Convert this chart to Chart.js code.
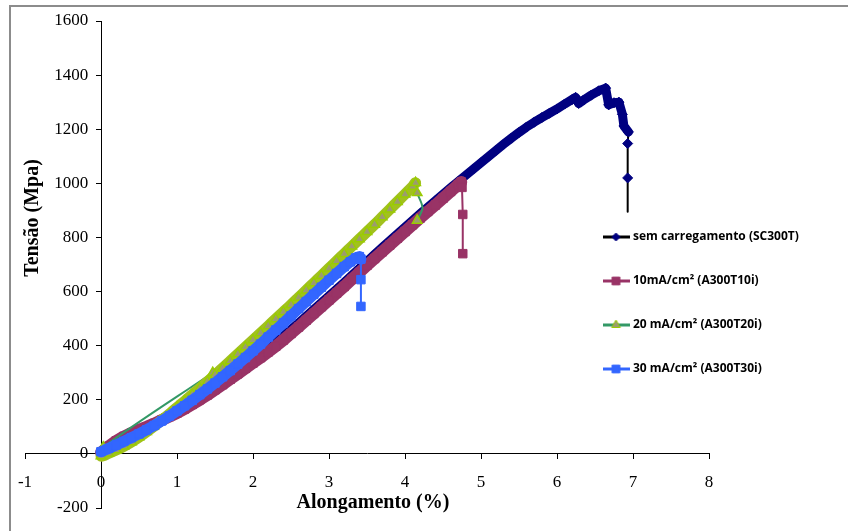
<!DOCTYPE html>
<html>
<head>
<meta charset="utf-8">
<script src="https://cdn.jsdelivr.net/npm/chart.js@4.4.0/dist/chart.umd.min.js"></script>
<style>
  body { margin: 0; background: #fff; }
  canvas { display: block; }
</style>
</head>
<body>
<canvas id="chart" width="848" height="531"></canvas>
<script>
// data
const seriesLabels = ['sem carregamento (SC300T)', '10mA/cm² (A300T10i)', '20 mA/cm² (A300T20i)', '30 mA/cm² (A300T30i)']
const xTicks = [-1, 0, 1, 2, 3, 4, 5, 6, 7, 8]
const yTicks = [-200, 0, 200, 400, 600, 800, 1000, 1200, 1400, 1600]
const xTitle = 'Alongamento (%)'
const yTitle = 'Tensão (Mpa)'

// sem carregamento
const scX = [0, 0.1, 0.2, 0.3, 0.4, 0.5, 0.6, 0.7, 0.8, 0.9, 1.0, 1.1, 1.2, 1.3, 1.4, 1.5, 1.6, 1.7, 1.8, 1.9,
  2.0, 2.1, 2.2, 2.3, 2.4, 2.5, 2.6, 2.7, 2.8, 2.9, 3.0, 3.1, 3.2, 3.3, 3.4, 3.5, 3.6, 3.7, 3.8, 3.9,
  4.0, 4.1, 4.2, 4.3, 4.4, 4.5, 4.6, 4.7, 4.8, 4.9, 5.0, 5.1, 5.2, 5.3, 5.4, 5.5, 5.6, 5.7, 5.8, 5.9,
  6.0, 6.1, 6.2, 6.245, 6.285, 6.35, 6.45, 6.55, 6.64, 6.68, 6.75, 6.815, 6.86, 6.88, 6.94, 6.93, 6.93, 6.93]
const scY = [0, 18, 36, 52, 67, 81, 95, 110, 126, 142, 158, 175, 192, 210, 228, 247, 266, 286, 306, 327,
  348, 369, 391, 413, 436, 460, 484, 509, 534, 559, 584, 609, 634, 660, 686, 712, 738, 763, 788, 813,
  838, 863, 888, 912, 936, 960, 984, 1007, 1030, 1053, 1076, 1099, 1122, 1145, 1167, 1188, 1208, 1226, 1243, 1259,
  1275, 1293, 1310, 1318, 1295, 1308, 1326, 1342, 1352, 1290, 1298, 1300, 1255, 1212, 1190, 1147, 1020, 895]

// 10 mA/cm2
const a10X = [0, 0.1, 0.2, 0.3, 0.4, 0.5, 0.6, 0.7, 0.8, 0.9, 1.0, 1.1, 1.2, 1.3, 1.4, 1.5, 1.6, 1.7, 1.8, 1.9,
  2.0, 2.1, 2.2, 2.3, 2.4, 2.5, 2.6, 2.7, 2.8, 2.9, 3.0, 3.1, 3.2, 3.3, 3.4, 3.5, 3.6, 3.7, 3.8, 3.9,
  4.0, 4.1, 4.2, 4.3, 4.4, 4.5, 4.6, 4.7, 4.74, 4.75, 4.76, 4.76]
const a10Y = [5, 28, 48, 64, 77, 89, 100, 112, 125, 138, 151, 166, 183, 200, 218, 237, 256, 276, 296, 316,
  336, 356, 377, 398, 421, 445, 469, 494, 519, 544, 569, 594, 619, 645, 671, 697, 722, 747, 772, 797,
  822, 847, 872, 896, 920, 945, 970, 995, 1005, 985, 885, 740]

// 20 mA/cm2
const a20X = [1.47, 0.03, 0, 0.1, 0.2, 0.3, 0.4, 0.5, 0.6, 0.7, 0.8, 0.9, 1.0, 1.1, 1.2, 1.3, 1.4, 1.5, 1.6, 1.7, 1.8, 1.9,
  2.0, 2.1, 2.2, 2.3, 2.4, 2.5, 2.6, 2.7, 2.8, 2.9, 3.0, 3.1, 3.2, 3.3, 3.4, 3.5, 3.6, 3.7, 3.8, 3.9,
  4.0, 4.1, 4.14, 4.16, 4.23, 4.16]
const a20Y = [300, 25, -8, 2, 14, 28, 44, 62, 82, 103, 125, 148, 172, 195, 219, 243, 267, 292, 317, 343, 369, 395,
  421, 447, 473, 499, 525, 551, 578, 605, 632, 659, 686, 713, 740, 767, 794, 821, 848, 876, 904, 932,
  960, 988, 1002, 965, 910, 863]

// 30 mA/cm2
const a30X = [0, 0.1, 0.2, 0.3, 0.4, 0.5, 0.6, 0.7, 0.8, 0.9, 1.0, 1.1, 1.2, 1.3, 1.4, 1.5, 1.6, 1.7, 1.8, 1.9,
  2.0, 2.1, 2.2, 2.3, 2.4, 2.5, 2.6, 2.7, 2.8, 2.9, 3.0, 3.1, 3.2, 3.28, 3.35, 3.4, 3.42, 3.42, 3.42]
const a30Y = [8, 20, 33, 46, 60, 74, 89, 105, 122, 140, 159, 178, 198, 219, 240, 262, 285, 308, 332, 356,
  381, 406, 432, 458, 484, 510, 537, 563, 590, 616, 642, 667, 692, 710, 724, 729, 720, 644, 545]

const pts = (xs, ys) => xs.map((x, i) => ({ x: x, y: ys[i] }))

// the readings are so dense in the original that the markers merge into a band:
// a wide stroke on those segments, a thin one for the sparse tails
const band = (from, to, wide, thin, wideColor, thinColor) => ({
  borderWidth: c => (c.p0DataIndex >= from && c.p1DataIndex <= to) ? wide : thin,
  borderColor: c => (c.p0DataIndex >= from && c.p1DataIndex <= to) ? wideColor : thinColor
})

// little "line + marker" pictures for the legend, like the excel one
function legendIcon(line, style, fill, edge, r) {
  const c = document.createElement('canvas')
  c.width = 27
  c.height = 14
  const g = c.getContext('2d')
  g.strokeStyle = line
  g.lineWidth = 3
  g.beginPath()
  g.moveTo(0, 7)
  g.lineTo(27, 7)
  g.stroke()
  g.fillStyle = fill
  g.strokeStyle = edge
  g.lineWidth = 1
  Chart.helpers.drawPoint(g, { pointStyle: style, radius: r, rotation: 0, borderWidth: 1 }, 13.5, 7)
  return c
}

const icons = [
  legendIcon('#000000', 'rectRot', '#000080', '#000080', 4),
  legendIcon('#993366', 'rect', '#993366', '#993366', 5.5),
  legendIcon('#339966', 'triangle', '#9c9c6e', '#99cc00', 5),
  legendIcon('#3366ff', 'rect', '#3366ff', '#3366ff', 5.5)
]

const decor = {
  id: 'decor',
  beforeDraw(chart) {
    const ctx = chart.ctx
    ctx.save()
    ctx.fillStyle = '#fff'
    ctx.fillRect(0, 0, chart.width, chart.height)
    ctx.strokeStyle = '#8c8c8c'
    ctx.lineWidth = 2
    ctx.beginPath()
    ctx.moveTo(10, chart.height + 2)
    ctx.lineTo(10, 6)
    ctx.lineTo(chart.width + 2, 6)
    ctx.stroke()
    ctx.restore()
  },
  afterLayout(chart) {
    // legend sits inside the plot, on the right
    const lg = chart.legend
    lg.left = 573
    lg.right = 848
    lg.top = 199
    lg.bottom = 531
    lg.width = lg.right - lg.left
    lg.height = lg.bottom - lg.top
  },
  afterDraw(chart) {
    const ctx = chart.ctx
    ctx.save()
    ctx.fillStyle = '#000'
    ctx.font = 'bold 20px "Liberation Serif"'
    ctx.textAlign = 'center'
    ctx.textBaseline = 'middle'
    ctx.fillText(xTitle, 373, 503)
    ctx.translate(33, 218)
    ctx.rotate(-Math.PI / 2)
    ctx.fillText(yTitle, 0, 0)
    ctx.restore()
  }
}

const tickFont = { family: 'Liberation Serif', size: 17 }

new Chart(document.getElementById('chart'), {
  type: 'scatter',
  data: {
    datasets: [{
      label: seriesLabels[0],
      data: pts(scX, scY),
      showLine: true,
      segment: band(0, 74, 9, 2, '#000080', '#000000'),
      borderColor: '#000000',
      borderJoinStyle: 'round',
      borderCapStyle: 'round',
      pointStyle: 'rectRot',
      pointRadius: c => c.dataIndex === scX.length - 1 ? 0 : 5,
      pointBackgroundColor: '#000080',
      pointBorderColor: '#000080',
      order: 4
    }, {
      label: seriesLabels[1],
      data: pts(a10X, a10Y),
      showLine: true,
      segment: band(0, 48, 12, 2, '#993366', '#993366'),
      borderColor: '#993366',
      borderJoinStyle: 'round',
      borderCapStyle: 'round',
      pointStyle: 'rect',
      pointRadius: 6,
      pointBackgroundColor: '#993366',
      pointBorderColor: '#993366',
      order: 3
    }, {
      label: seriesLabels[2],
      data: pts(a20X, a20Y),
      showLine: true,
      tension: 0.3,
      segment: band(2, 44, 11, 2, '#a2c020', '#339966'),
      borderColor: '#339966',
      borderJoinStyle: 'round',
      borderCapStyle: 'round',
      pointStyle: 'triangle',
      pointRadius: c => c.dataIndex === 46 ? 0 : 5.5,
      pointBackgroundColor: '#9c9c6e',
      pointBorderColor: '#99cc00',
      pointBorderWidth: 1.5,
      order: 2
    }, {
      label: seriesLabels[3],
      data: pts(a30X, a30Y),
      showLine: true,
      segment: band(0, 36, 11, 2, '#3366ff', '#3366ff'),
      borderColor: '#3366ff',
      borderJoinStyle: 'round',
      borderCapStyle: 'round',
      pointStyle: 'rect',
      pointRadius: 6,
      pointBackgroundColor: '#3366ff',
      pointBorderColor: '#3366ff',
      order: 1
    }]
  },
  options: {
    responsive: false,
    animation: false,
    layout: { padding: { left: 25, right: 139, top: 21, bottom: 23 } },
    scales: {
      x: {
        type: 'linear',
        position: { y: 0 },
        min: xTicks[0],
        max: xTicks[xTicks.length - 1],
        afterBuildTicks: s => { s.ticks = xTicks.map(v => ({ value: v })) },
        grid: { drawOnChartArea: false, drawTicks: true, tickLength: 5, color: '#000' },
        border: { color: '#000', width: 1 },
        ticks: { color: '#000', font: tickFont, padding: 13, autoSkip: false, maxRotation: 0, callback: v => String(v) }
      },
      y: {
        type: 'linear',
        position: { x: 0 },
        min: yTicks[0],
        max: yTicks[yTicks.length - 1],
        afterBuildTicks: s => { s.ticks = yTicks.map(v => ({ value: v })) },
        grid: { drawOnChartArea: false, drawTicks: true, tickLength: 5, color: '#000' },
        border: { color: '#000', width: 1 },
        // labels of an axis placed at x = 0 are drawn flush with the line, so keep a gap
        ticks: { color: '#000', font: tickFont, autoSkip: false, callback: v => String(v) + '   ' }
      }
    },
    plugins: {
      tooltip: { enabled: false },
      legend: {
        position: 'chartArea',
        align: 'start',
        labels: {
          usePointStyle: true,
          pointStyleWidth: 22,
          padding: 32,
          color: '#000',
          font: { family: 'Open Sans', size: 12, weight: 'bold' },
          generateLabels: chart => {
            const items = Chart.defaults.plugins.legend.labels.generateLabels(chart)
            items.forEach(it => { it.pointStyle = icons[it.datasetIndex] })
            return items.sort((a, b) => a.datasetIndex - b.datasetIndex)
          }
        }
      }
    }
  },
  plugins: [decor]
})
</script>
</body>
</html>
